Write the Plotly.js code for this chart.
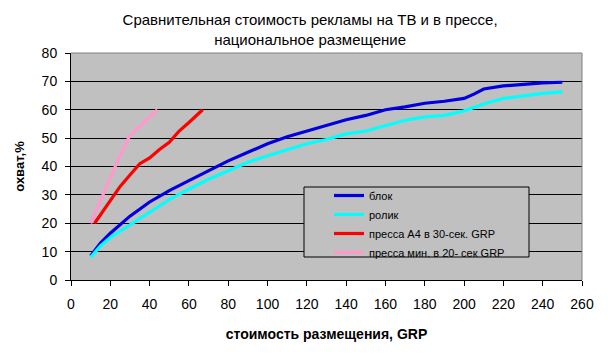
<!DOCTYPE html>
<html>
<head>
<meta charset="utf-8">
<script src="https://cdn.plot.ly/plotly-3.0.1.min.js"></script>
<style>html,body{margin:0;padding:0;background:#fff}#chart{width:608px;height:354px}</style>
</head>
<body>
<div id="chart"></div>
<script>
const seriesNames = ["блок", "ролик", "пресса А4 в 30-сек. GRP", "пресса мин. в 20- сек GRP"];

const blokX = [10, 15, 20, 30, 40, 50, 60, 70, 80, 90, 100, 110, 120, 130, 140, 150, 160, 170, 180, 190, 200, 205, 210, 220, 230, 240, 250];
const blokY = [8.5, 13, 16.5, 22.5, 27.5, 31.5, 35, 38.5, 42, 45, 48, 50.5, 52.5, 54.5, 56.5, 58, 60, 61, 62.3, 63, 64, 65.5, 67.3, 68.4, 69, 69.5, 69.7];

const rolikX = [10, 15, 20, 30, 40, 50, 60, 70, 80, 90, 100, 110, 120, 130, 140, 150, 160, 170, 180, 190, 200, 210, 220, 230, 240, 250];
const rolikY = [8, 12, 15, 19.5, 24, 28.3, 32, 35.5, 38.5, 41.5, 43.8, 45.8, 48, 49.5, 51.5, 52.5, 54.5, 56.3, 57.5, 58, 59.6, 62, 64, 65, 65.8, 66.3];

const pressA4X = [12, 15, 20, 25, 30, 35, 40, 45, 50, 55, 60, 67];
const pressA4Y = [20, 23, 28, 33, 37, 41, 43, 46, 48.5, 52.5, 55.5, 60];

const pressMinX = [10, 15, 20, 25, 30, 36, 44];
const pressMinY = [20, 28, 36, 44, 51, 55, 60];

const xTicks = [0, 20, 40, 60, 80, 100, 120, 140, 160, 180, 200, 220, 240, 260];
const yTicks = [0, 10, 20, 30, 40, 50, 60, 70, 80];

const colors = ["#0000e0", "#00ffff", "#ff0000", "#ff99cc"];

const traces = [
  {x: blokX, y: blokY, name: seriesNames[0]},
  {x: rolikX, y: rolikY, name: seriesNames[1]},
  {x: pressA4X, y: pressA4Y, name: seriesNames[2]},
  {x: pressMinX, y: pressMinY, name: seriesNames[3]}
].map((t, i) => Object.assign(t, {
  type: "scatter", mode: "lines",
  line: {color: colors[i], width: 3.2}
}));

const font = {family: "Liberation Sans, Arial, sans-serif", color: "#000"};

const layout = {
  width: 608, height: 354,
  margin: {l: 71, r: 26, t: 53, b: 74},
  paper_bgcolor: "#ffffff",
  plot_bgcolor: "#c0c0c0",
  font: Object.assign({size: 14}, font),
  showlegend: true,
  title: {
    text: "Сравнительная стоимость рекламы на ТВ и в прессе,<br>национальное размещение",
    font: Object.assign({size: 15}, font),
    x: 0.51, xref: "container", xanchor: "center",
    y: 0.928, yref: "container", yanchor: "top"
  },
  xaxis: {
    range: [0, 260], tickvals: xTicks, ticktext: xTicks.map(String),
    showgrid: false, zeroline: false,
    showline: true, linecolor: "#000", linewidth: 1,
    ticks: "outside", ticklen: 5, tickcolor: "#000",
    ticklabelstandoff: 6,
    tickfont: Object.assign({size: 14}, font),
    title: {text: "<b>стоимость размещения, GRP</b>", font: Object.assign({size: 14}, font), standoff: 18}
  },
  yaxis: {
    range: [0, 80], tickvals: yTicks, ticktext: yTicks.map(String),
    showgrid: true, gridcolor: "#000", gridwidth: 1, zeroline: false,
    showline: true, linecolor: "#000", linewidth: 1,
    ticks: "outside", ticklen: 5, tickcolor: "#000",
    ticklabelstandoff: 5,
    tickfont: Object.assign({size: 14}, font),
    title: {text: "<b>охват,%</b>", font: Object.assign({size: 13}, font), standoff: 14}
  },
  shapes: [
    {type: "line", xref: "paper", yref: "paper", x0: 0, x1: 1, y0: 1, y1: 1, line: {color: "#808080", width: 1}},
    {type: "line", xref: "paper", yref: "paper", x0: 1, x1: 1, y0: 0, y1: 1, line: {color: "#808080", width: 1}},
    {type: "rect", xref: "paper", yref: "paper",
     x0: (304 - 71) / 511, x1: (529 - 71) / 511,
     y0: (280 - 257) / 227, y1: (280 - 187) / 227,
     fillcolor: "#c0c0c0", line: {color: "#000", width: 1}, layer: "above"}
  ],
  legend: {
    x: (329 - 71) / 511, xanchor: "left",
    y: (280 - 181) / 227, yanchor: "top",
    bgcolor: "rgba(0,0,0,0)", borderwidth: 0,
    font: Object.assign({size: 11}, font),
    tracegroupgap: 0, itemwidth: 30
  }
};

Plotly.newPlot("chart", traces, layout, {displayModeBar: false, staticPlot: true});
</script>
</body>
</html>
